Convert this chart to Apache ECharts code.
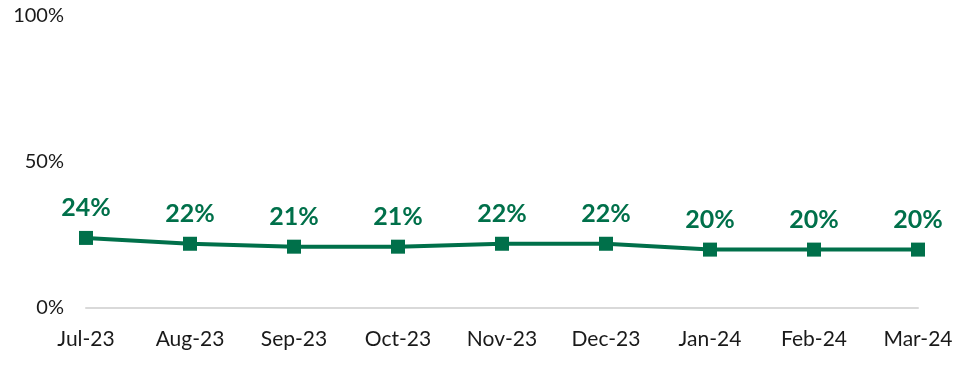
<!DOCTYPE html>
<html><head><meta charset="utf-8">
<script src="https://cdn.jsdelivr.net/npm/echarts@6/dist/echarts.min.js"></script>
<style>html,body{margin:0;padding:0;background:#fff}#c{width:974px;height:381px}</style>
</head><body><div id="c"></div>
<script>
const categories = ['Jul-23','Aug-23','Sep-23','Oct-23','Nov-23','Dec-23','Jan-24','Feb-24','Mar-24'];
const values = [24,22,21,21,22,22,20,20,20];
const yTicks = [0,50,100];
const chart = echarts.init(document.getElementById('c'));
chart.setOption({
  animation:false,
  grid:{left:86,right:56,top:16,bottom:73},
  xAxis:{type:'category',data:categories,boundaryGap:false,
    axisLine:{lineStyle:{color:'#d9d9d9',width:2}},axisTick:{show:false},
    axisLabel:{color:'#1a1a1a',fontFamily:'Lato',fontSize:21,margin:21}},
  yAxis:{type:'value',min:0,max:100,interval:50,
    axisLine:{show:false},axisTick:{show:false},splitLine:{show:false},
    axisLabel:{color:'#1a1a1a',fontFamily:'Lato',fontSize:20,margin:22,formatter:v=>v+'%'}},
  series:[{type:'line',data:values,symbol:'rect',symbolSize:14,
    lineStyle:{color:'#00704a',width:4},itemStyle:{color:'#00704a'},
    label:{show:true,position:'top',distance:10,formatter:p=>p.value+'%',
      color:'#00704a',fontFamily:'Lato',fontWeight:'bold',fontSize:25}}]
});
</script></body></html>
